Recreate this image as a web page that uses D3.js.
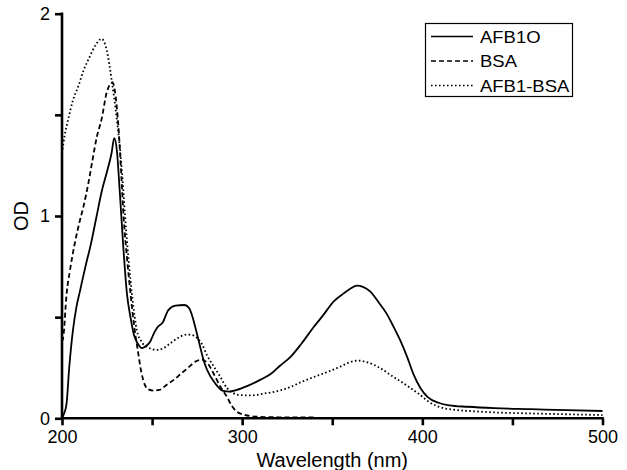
<!DOCTYPE html>
<html>
<head>
<meta charset="utf-8">
<script src="https://cdn.jsdelivr.net/npm/d3@7"></script>
<style>
  body { margin: 0; background: #fff; }
  svg { display: block; font-family: "Liberation Sans", Arial, sans-serif; }
</style>
</head>
<body>
<svg id="chart" width="627" height="470"></svg>
<script>
// wavelength (nm) / optical density
var afbWl = [200, 201, 202.5, 204, 206, 208, 210, 213, 216, 219, 222, 225, 227.5, 229, 230.5, 232, 234, 236, 238, 240, 242, 244.5, 247, 249, 251, 253, 256, 259, 263, 268, 270.5, 272.5, 274, 276.5, 278.5, 280.5, 285, 289.5, 293, 297, 303, 310, 316, 321, 327, 333, 339.6, 345, 350.7, 356, 360, 363.7, 367, 371, 376, 380, 384, 388, 391.5, 395, 399, 403, 409, 415, 425, 440, 460, 480, 500]
var afbOd = [0.0, 0.02, 0.07, 0.25, 0.43, 0.55, 0.63, 0.75, 0.86, 0.99, 1.12, 1.22, 1.31, 1.385, 1.32, 1.13, 0.85, 0.62, 0.5, 0.41, 0.37, 0.347, 0.36, 0.38, 0.42, 0.45, 0.475, 0.535, 0.557, 0.56, 0.545, 0.5, 0.45, 0.36, 0.29, 0.24, 0.173, 0.135, 0.132, 0.14, 0.16, 0.19, 0.22, 0.26, 0.305, 0.37, 0.45, 0.51, 0.577, 0.615, 0.64, 0.656, 0.65, 0.627, 0.57, 0.52, 0.453, 0.38, 0.305, 0.22, 0.149, 0.105, 0.077, 0.064, 0.057, 0.05, 0.045, 0.04, 0.036]

var bsaWl = [200, 200.7, 202.6, 204.4, 207.2, 210, 212, 214.6, 217, 219.3, 222, 224.8, 228, 230.4, 231.5, 232.8, 234.3, 236, 238, 240, 242, 244, 246, 248, 250.7, 254, 258, 262, 266, 270, 274, 277.6, 281, 285, 288, 291.5, 294, 297, 301, 308, 320, 340]
var bsaOd = [0.38, 0.4, 0.62, 0.73, 0.87, 0.98, 1.05, 1.16, 1.28, 1.39, 1.48, 1.61, 1.66, 1.54, 1.42, 1.22, 0.98, 0.8, 0.62, 0.46, 0.34, 0.23, 0.165, 0.143, 0.137, 0.14, 0.165, 0.19, 0.22, 0.25, 0.28, 0.29, 0.27, 0.206, 0.155, 0.107, 0.065, 0.033, 0.018, 0.008, 0.005, 0.004]

var mixWl = [200, 201.5, 203.5, 206, 209, 212, 215, 219, 222, 224.8, 227.6, 230.4, 233.2, 235, 237, 239, 241.5, 244, 247, 252.6, 256, 260, 264, 269.3, 272, 274.8, 277.5, 280.4, 284, 287.8, 291.5, 295, 299, 305, 312, 322, 327, 333, 338, 347, 354.4, 360, 364.6, 370, 376.7, 383, 389.6, 395, 398.9, 403, 408, 413, 419, 430, 437.8, 460, 480, 500]
var mixOd = [1.31, 1.4, 1.48, 1.57, 1.64, 1.72, 1.78, 1.85, 1.876, 1.82, 1.67, 1.48, 1.23, 1.0, 0.78, 0.6, 0.437, 0.38, 0.354, 0.338, 0.345, 0.37, 0.395, 0.414, 0.412, 0.398, 0.37, 0.313, 0.26, 0.206, 0.15, 0.125, 0.115, 0.113, 0.122, 0.14, 0.156, 0.18, 0.198, 0.228, 0.255, 0.278, 0.285, 0.275, 0.248, 0.21, 0.173, 0.14, 0.115, 0.085, 0.061, 0.048, 0.041, 0.034, 0.03, 0.024, 0.02, 0.016]

var seriesNames = ["AFB1O", "BSA", "AFB1-BSA"]
var xTicks = [200, 250, 300, 350, 400, 450, 500]
var yTicks = [0, 0.5, 1, 1.5, 2]

var svg = d3.select("#chart")
var plotLeft = 62, plotRight = 602.5, plotTop = 13.7, plotBottom = 418.3

var x = d3.scaleLinear().domain([200, 500]).range([plotLeft, plotRight])
var y = d3.scaleLinear().domain([0, 2]).range([plotBottom, plotTop])

var series = [
    { name: seriesNames[0], wl: afbWl, od: afbOd, dash: null },
    { name: seriesNames[1], wl: bsaWl, od: bsaOd, dash: "5,3" },
    { name: seriesNames[2], wl: mixWl, od: mixOd, dash: "1.6,2.4" }
]

var line = d3.line()
    .x(d => x(d[0]))
    .y(d => y(d[1]))
    .curve(d3.curveMonotoneX)

svg.append("g")
    .attr("class", "curves")
    .selectAll("path")
    .data(series)
    .enter().append("path")
    .attr("d", d => line(d.wl.map((w, i) => [w, d.od[i]])))
    .attr("fill", "none")
    .attr("stroke", "#000")
    .attr("stroke-width", 1.8)
    .attr("stroke-dasharray", d => d.dash)

// axes
var xAxis = svg.append("g")
    .attr("transform", "translate(0," + plotBottom + ")")
    .call(d3.axisBottom(x).tickValues(xTicks).tickSize(7).tickSizeOuter(0)
        .tickFormat(d => d % 100 === 0 ? d : ""))

var yAxis = svg.append("g")
    .attr("transform", "translate(" + plotLeft + ",0)")
    .call(d3.axisLeft(y).tickValues(yTicks).tickSize(7).tickSizeOuter(0)
        .tickFormat(d => d % 1 === 0 ? d : ""))

svg.selectAll(".domain, .tick line")
    .attr("stroke", "#000")
    .attr("stroke-width", 2.6)

xAxis.select(".domain").attr("d", "M" + (plotLeft - 1.3) + ",0H" + (plotRight + 1.3))
yAxis.select(".domain").attr("d", "M0," + (plotTop - 1.3) + "V" + (plotBottom + 1.3))

svg.selectAll(".tick text")
    .attr("fill", "#000")
    .style("font-size", "18px")
    .style("font-family", "Liberation Sans, Arial, sans-serif")

xAxis.selectAll(".tick text").attr("y", 12)
yAxis.selectAll(".tick text").attr("x", -12)

// axis titles
svg.append("text")
    .attr("x", (plotLeft + plotRight) / 2)
    .attr("y", 467)
    .attr("text-anchor", "middle")
    .style("font-size", "20px")
    .text("Wavelength (nm)")

svg.append("text")
    .attr("transform", "translate(28," + y(1) + ") rotate(-90)")
    .attr("text-anchor", "middle")
    .style("font-size", "20px")
    .text("OD")

// legend
var legend = svg.append("g").attr("class", "legend")

legend.append("rect")
    .attr("x", 425.5)
    .attr("y", 23.5)
    .attr("width", 147)
    .attr("height", 73)
    .attr("fill", "#fff")
    .attr("stroke", "#000")
    .attr("stroke-width", 1.2)

legend.selectAll("line")
    .data(series)
    .enter().append("line")
    .attr("x1", 431)
    .attr("x2", 473)
    .attr("y1", (d, i) => 36.5 + i * 24.5)
    .attr("y2", (d, i) => 36.5 + i * 24.5)
    .attr("stroke", "#000")
    .attr("stroke-width", 1.3)
    .attr("stroke-dasharray", d => d.dash)

legend.selectAll("text")
    .data(series)
    .enter().append("text")
    .attr("transform", (d, i) => "translate(480," + (42.5 + i * 24.5) + ") scale(1.12,1)")
    .style("font-size", "16.5px")
    .text(d => d.name)
</script>
</body>
</html>
